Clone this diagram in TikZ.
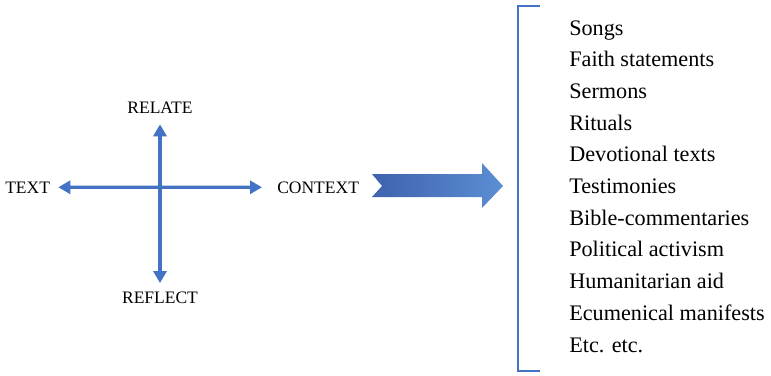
\documentclass[tikz,border=0pt]{standalone}
\usepackage{fontspec}
\setmainfont{Liberation Serif}
\usetikzlibrary{arrows.meta}
\definecolor{ablue}{HTML}{4472C4}
\definecolor{darkblue}{HTML}{3F62AE}
\definecolor{lightblue}{HTML}{5B8ED3}

\begin{document}
\begin{tikzpicture}[x=1pt,y=-1pt,
		arr/.style={{Triangle[length=12pt,width=13pt]}-{Triangle[length=12pt,width=13pt]},draw=ablue,line width=3.2pt},
		semithick]
		\tikzstyle{lbl}=[inner sep=0pt,font=\fontsize{17.5}{17.5}\selectfont,text=black]
		\tikzstyle{item}=[inner sep=0pt,anchor=base west,font=\fontsize{22.2}{22.2}\selectfont]
		\useasboundingbox (0,0) rectangle (771,375);
		
		\node[lbl,anchor=base] (relate)  at (160,113) {RELATE};
		\node[lbl,anchor=base] (reflect) at (160,303) {REFLECT};
		\node[lbl,anchor=base west] (txt) at (5,193)   {TEXT};
		\node[lbl,anchor=base west] (ctx) at (277,193) {CONTEXT};
		
		\draw[arr,shorten <=8pt,shorten >=15pt] (txt) -- (ctx);
		\draw[arr,shorten <=11pt,shorten >=8pt] (relate) -- (reflect);
		
		% big arrow
		\shade[left color=darkblue,right color=lightblue]
		(372,174) -- (482,174) -- (482,163) -- (503,186) -- (482,208)
		-- (482,197) -- (372,197) -- (382,186) -- cycle;
		
		% bracket
		\draw[ablue,line width=2pt] (540,6) -- (518,6) -- (518,371) -- (540,371);
		
		\foreach \t [count=\i from 0] in {Songs,Faith statements,Sermons,Rituals,
			Devotional texts,Testimonies,Bible-commentaries,Political activism,
			Humanitarian aid,Ecumenical manifests,Etc. etc.}
		\node[item] (item\i) at (569,35+31.7*\i) {\t};
\end{tikzpicture}
\end{document}
